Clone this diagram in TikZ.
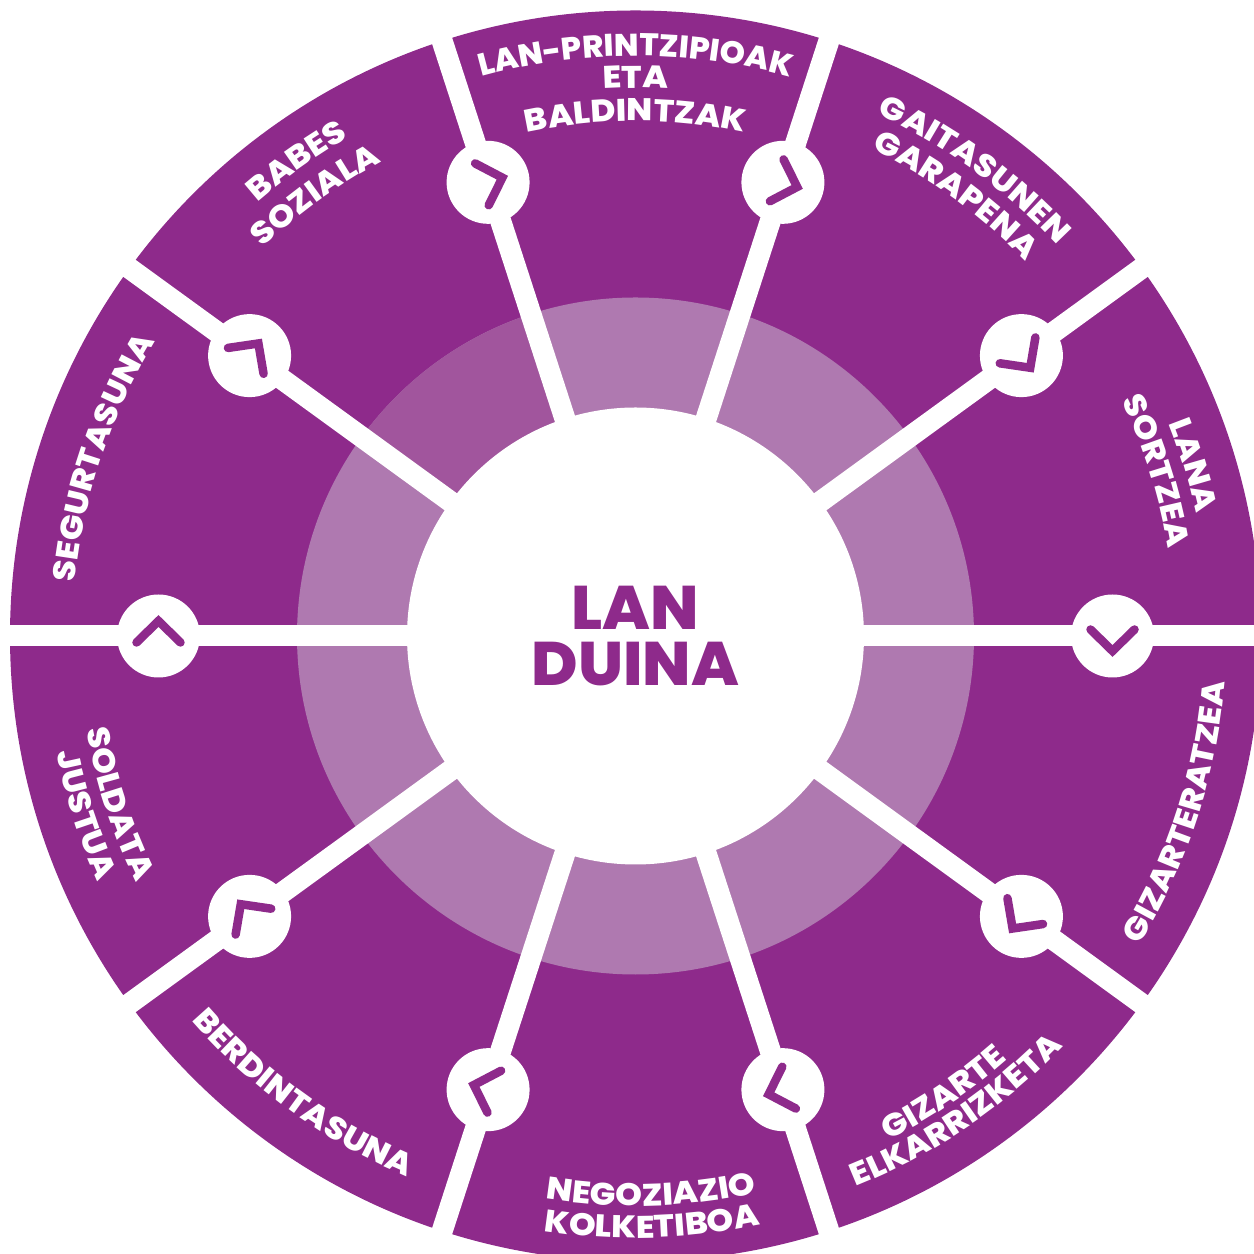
\documentclass[tikz,border=0pt]{standalone}
\usepackage{xcolor}
\usepackage{fontspec}
\usetikzlibrary{decorations.text}
\newfontfamily\lanfont[FakeStretch=1.09]{Poppins ExtraBold}
\newfontfamily\titlefont[FakeStretch=1.03]{Poppins ExtraBold}
\definecolor{lanmain}{HTML}{8E2A8B}
\definecolor{lanring}{HTML}{AF79B0}
\definecolor{landark}{HTML}{A1559D}
\tikzset{
  spoke/.style={draw=white,line width=0.21cm},
  hubdisc/.style={circle,fill=white,minimum size=0.83cm,inner sep=0pt},
  chevron/.style={draw=lanmain,line width=0.085cm,line cap=round,line join=miter,miter limit=10}
}
\newcommand{\lblsize}{\fontsize{8.9}{10}\selectfont\color{white}}
% clockwise arc, letters stand outwards
\newcommand{\toplabel}[4][\lanfont]{
  \path[decorate,decoration={text along path,text align=center,text={|#1\lblsize|#4}}]
    (#3+55:#2) arc (#3+55:#3-55:#2);
}
% counter-clockwise arc, letters stand inwards
\newcommand{\botlabel}[4][\lanfont]{
  \path[decorate,decoration={text along path,text align=center,text={|#1\lblsize|#4}}]
    (#3-55:#2) arc (#3-55:#3+55:#2);
}
\begin{document}
\begin{tikzpicture}
    \useasboundingbox (-6.355,-6.18) rectangle (6.185,6.36);
    \fill[lanmain] (0,0) circle (6.255);
    \fill[lanring] (0,0) circle (3.385);
    \fill[landark] (0,0) -- (108:3.385) arc (108:144:3.385) -- cycle;
    \node[circle,fill=white,minimum size=4.57cm,inner sep=0pt] (core) at (0,0) {};
    \foreach \a in {0,36,...,324} {
      \coordinate (rim\a) at (\a:6.4);
      \draw[spoke] (core.center) -- (rim\a);
    }
    \foreach \a in {0,36,...,324} {
      \node[hubdisc] (hub\a) at (\a:4.77) {};
      \begin{scope}[shift={(hub\a)},rotate=\a]
        \draw[chevron] (-0.22,0.065) -- (0,-0.15) -- (0.22,0.065);
      \end{scope}
    }
    \node[font=\titlefont\fontsize{17.5}{16}\selectfont,text=lanmain,align=center] (title) at (0,0) {LAN\\DUINA};
    \toplabel[\titlefont]{5.80}{90}{LAN-PRINTZIPIOAK}
    \toplabel{5.48}{90}{ETA}
    \toplabel{5.15}{90}{BALDINTZAK}
    \toplabel{5.75}{54}{GAITASUNEN}
    \toplabel{5.41}{54}{GARAPENA}
    \toplabel{5.74}{17}{LANA}
    \toplabel{5.40}{17.6}{SORTZEA}
    \toplabel{5.75}{125.5}{BABES}
    \toplabel{5.38}{126}{SOZIALA}
    \toplabel{5.63}{161.5}{SEGURTASUNA}
    \botlabel{5.91}{-18}{GIZARTERATZEA}
    \botlabel{5.64}{-56}{GIZARTE}
    \botlabel{5.93}{-56}{ELKARRIZKETA}
    \botlabel{5.70}{-88.4}{NEGOZIAZIO}
    \botlabel{6.02}{-88.4}{KOLKETIBOA}
    \botlabel{5.87}{-126}{BERDINTASUNA}
    \botlabel{5.57}{-162}{SOLDATA}
    \botlabel{5.91}{-162}{JUSTUA}
\end{tikzpicture}
\end{document}
